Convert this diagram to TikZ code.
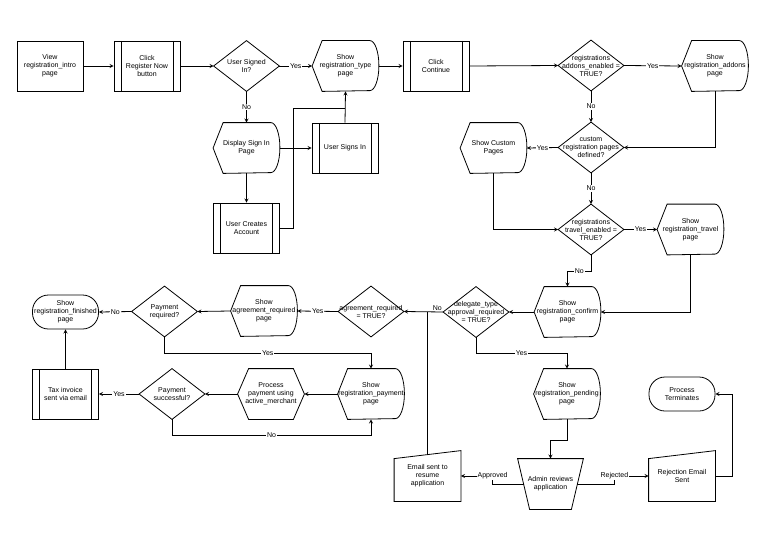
\documentclass[tikz,border=0pt]{standalone}
\usepackage{fontspec}
\setmainfont{Liberation Sans}
\tikzset{
  box/.style={minimum width=66pt, minimum height=50pt, inner sep=0pt, align=center, font=\fontsize{7}{8}\selectfont},
  proc/.style={box, draw},
  subproc/.style={box, draw, path picture={
    \draw ([xshift=7pt]path picture bounding box.north west) -- ([xshift=7pt]path picture bounding box.south west)
          ([xshift=-7pt]path picture bounding box.north east) -- ([xshift=-7pt]path picture bounding box.south east);}},
  decide/.style={box, minimum width=65pt},
  screen/.style={box},
  prep/.style={box},
  term/.style={box, draw, minimum height=34pt, rounded corners=16pt},
  manin/.style={box},
  manop/.style={box, minimum width=65pt},
  lab/.style={font=\fontsize{7}{8}\selectfont, inner sep=1pt},
  lbl/.style={lab, fill=white}
}
\begin{document}
\begin{tikzpicture}[x=1pt, y=-1pt, line width=0.8pt]
\useasboundingbox (0,0) rectangle (768,543);
% top row
\node[proc] (intro) at (50,66) {View\\registration\_intro\\page};
\node[subproc] (regnow) at (147,66) {Click\\Register Now\\button};
\node[decide] (signed) at (246.5,66) {User Signed\\In?};
\node[screen] (showtype) at (345.5,66) {Show\\registration\_type\\page};
\node[subproc] (cont) at (436,66) {Click\\Continue};
\node[decide] (addons) at (591,65.5) {registrations\\addons\_enabled =\\TRUE?};
\node[screen] (showaddons) at (715,66) {Show\\registration\_addons\\page};
% sign in
\node[screen] (signin) at (246.5,148) {Display Sign In\\Page};
\node[subproc] (signs) at (345,148) {User Signs In};
\node[subproc] (creates) at (246.5,228) {User Creates\\Account};
% custom pages and travel
\node[decide] (custom) at (591,147.5) {custom\\registration pages\\defined?};
\node[screen] (showcustom) at (493.5,148) {Show Custom\\Pages};
\node[decide] (travel) at (591,229.5) {registrations\\travel\_enabled =\\TRUE?};
\node[screen] (showtravel) at (690.5,229.5) {Show\\registration\_travel\\page};
% confirm row
\node[screen] (confirm) at (567.5,312) {Show\\registration\_confirm\\page};
\node[decide] (deleg) at (476,312) {delegate\_type\\approval\_required\\= TRUE?};
\node[decide] (agreed) at (371,311.5) {agreement\_required\\= TRUE?};
\node[screen] (showagree) at (264,311) {Show\\agreement\_required\\page};
\node[decide] (payreq) at (164.5,311.5) {Payment\\required?};
\node[term] (finished) at (65.5,312) {Show\\registration\_finished\\page};
% payment row
\node[screen] (showpay) at (371,394) {Show\\registration\_payment\\page};
\node[prep] (process) at (271,394) {Process\\payment using\\active\_merchant};
\node[decide] (paysucc) at (172,394) {Payment\\successful?};
\node[subproc] (tax) at (65.5,394) {Tax invoice\\sent via email};
\node[screen] (pending) at (567,394) {Show\\registration\_pending\\page};
\node[term] (terminates) at (682,394) {Process\\Terminates};
% admin
\node[manop] (admin) at (550.5,484) {Admin reviews\\application};
\node[manin] (email) at (427.5,476) {Email sent to\\resume\\application};
\node[manin] (reject) at (682,476) {Rejection Email\\Sent};

% outlines
\foreach \n in {signed,addons,custom,travel,deleg,agreed,payreq,paysucc}
  \draw (\n.north) -- (\n.east) -- (\n.south) -- (\n.west) -- cycle;
\foreach \n in {showtype,showaddons,signin,showcustom,showtravel,confirm,showagree,showpay,pending}
  \draw ([xshift=10pt]\n.north west) -- ([xshift=-9pt]\n.north east)
    arc[start angle=90, end angle=-90, x radius=9pt, y radius=25pt]
    -- ([xshift=10pt]\n.south west) -- (\n.west) -- cycle;
\draw ([xshift=11pt]process.north west) -- ([xshift=-11pt]process.north east) -- (process.east)
  -- ([xshift=-11pt]process.south east) -- ([xshift=11pt]process.south west) -- (process.west) -- cycle;
\foreach \n in {email,reject}
  \draw ([yshift=-8pt]\n.north west) -- (\n.north east) -- (\n.south east) -- (\n.south west) -- cycle;
\draw (admin.north west) -- (admin.north east) -- ([xshift=-12pt]admin.south east) -- ([xshift=12pt]admin.south west) -- cycle;

% connectors
\draw[-stealth] (intro.east) -- (regnow.west);
\draw[-stealth] (regnow.east) -- (signed.west);
\draw[-stealth] (signed.east) -- node[lbl]{Yes} (showtype.west);
\draw[-stealth] (signed.south) -- node[lbl]{No} (signin.north);
\draw[-stealth] (signin.east) -- (signs.west);
\draw[-stealth] (signin.south) -- (creates.north);
\draw[-stealth] (signs.north) -- (showtype.south);
\draw (creates.east) -- ++(13,0) |- ([yshift=-17pt]signs.north |- showtype.south);
\draw[-stealth] (showtype.east) -- (cont.west);
\draw[-stealth] (cont.east) -- (addons.west);
\draw[-stealth] (addons.east) -- node[lbl]{Yes} (showaddons.west);
\draw[-stealth] (addons.south) -- node[lbl]{No} (custom.north);
\draw[-stealth] (showaddons.south) |- (custom.east);
\draw[-stealth] (custom.west) -- node[lbl]{Yes} (showcustom.east);
\draw[-stealth] (custom.south) -- node[lbl]{No} (travel.north);
\draw[-stealth] (showcustom.south) |- (travel.west);
\draw[-stealth] (travel.east) -- node[lbl]{Yes} (showtravel.west);
\draw[-stealth] (travel.south) -- ++(0,16) -| node[lbl,pos=0.25]{No} (confirm.north);
\draw[-stealth] (showtravel.south) |- (confirm.east);
\draw[-stealth] (confirm.west) -- (deleg.east);
\draw[-stealth] (deleg.west) -- node[lab,above,pos=0.15]{No} (agreed.east);
\draw[-stealth] (deleg.south) -- ++(0,16) -| node[lbl,pos=0.25]{Yes} (pending.north);
\draw[-stealth] (agreed.west) -- node[lbl]{Yes} (showagree.east);
\draw[-stealth] (showagree.west) -- (payreq.east);
\draw[-stealth] (payreq.west) -- node[lbl]{No} (finished.east);
\draw[-stealth] (payreq.south) -- ++(0,16) -| node[lbl,pos=0.25]{Yes} (showpay.north);
\draw[-stealth] (showpay.west) -- (process.east);
\draw[-stealth] (process.west) -- (paysucc.east);
\draw[-stealth] (paysucc.west) -- node[lbl]{Yes} (tax.east);
\draw[-stealth] (tax.north) -- (finished.south);
\draw[-stealth] (paysucc.south) -- ++(0,16) -| node[lbl,pos=0.25]{No} (showpay.south);
\draw[-stealth] (pending.south) -- ++(0,21) -| (admin.north);
\draw[-stealth] ([xshift=6pt]admin.west) -- ++(-31,0) |- node[lbl]{Approved} (email.east);
\draw[-stealth] ([xshift=-6pt]admin.east) -- ++(37,0) |- node[lbl]{Rejected} (reject.west);
\draw[-stealth] (reject.east) -- ++(17,0) |- (terminates.east);
\draw ([yshift=-4pt]email.north) -- (email.north |- agreed.east);
\end{tikzpicture}
\end{document}
